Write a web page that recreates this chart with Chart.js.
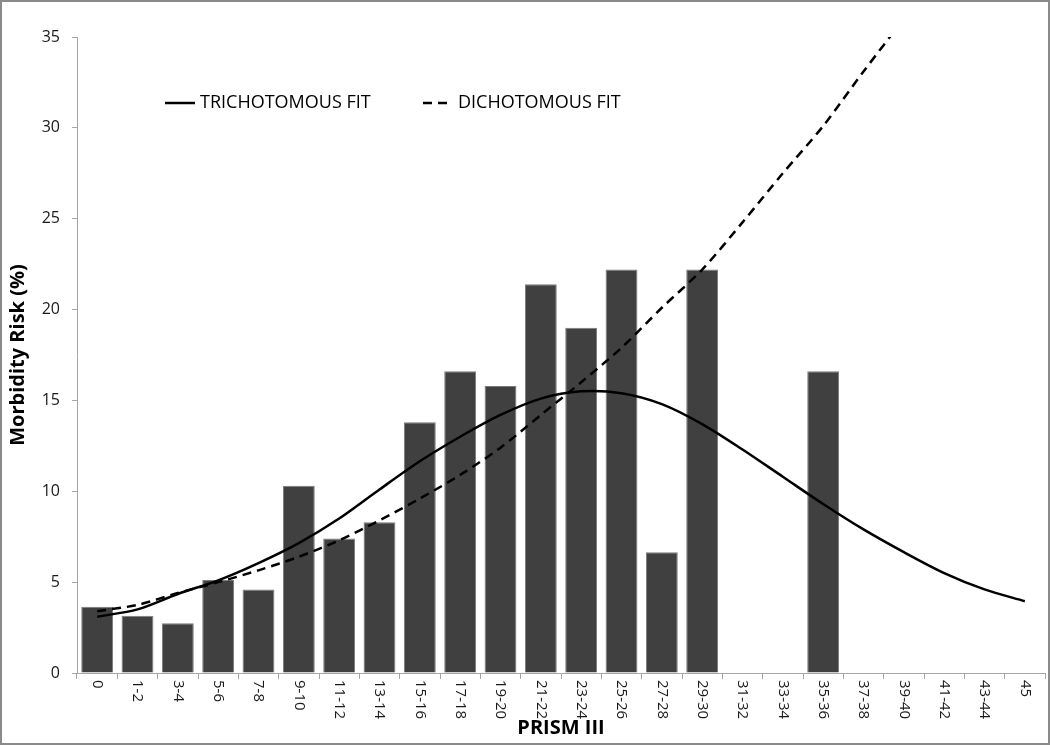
<!DOCTYPE html>
<html>
<head>
<meta charset="utf-8">
<script src="https://cdn.jsdelivr.net/npm/chart.js@4.4.1/dist/chart.umd.min.js"></script>
<style>
  body { margin: 0; background: #fff; }
</style>
</head>
<body>
<canvas id="chart" width="1050" height="745"></canvas>
<script>
const categories = ['0', '1-2', '3-4', '5-6', '7-8', '9-10', '11-12', '13-14', '15-16', '17-18',
    '19-20', '21-22', '23-24', '25-26', '27-28', '29-30', '31-32', '33-34', '35-36', '37-38',
    '39-40', '41-42', '43-44', '45'];

// observed morbidity per PRISM III group (%)
const observedRisk = [3.65, 3.15, 2.74, 5.12, 4.6, 10.3, 7.4, 8.3, 13.8, 16.6,
    15.8, 21.4, 19.0, 22.2, 6.64, 22.2, null, null, 16.6, null,
    null, null, null, null];

const trichotomousFit = [3.1, 3.5, 4.35, 5.1, 6.05, 7.15, 8.5, 10.1, 11.65, 13.0,
    14.2, 15.1, 15.5, 15.4, 14.8, 13.7, 12.3, 10.8, 9.3, 7.9,
    6.65, 5.5, 4.6, 3.95];

// runs off the top of the axis after 39-40
const dichotomousFit = [3.4, 3.75, 4.4, 5.0, 5.65, 6.4, 7.3, 8.4, 9.6, 10.9,
    12.4, 14.2, 16.0, 17.9, 20.1, 22.2, 24.8, 27.5, 30.1, 33.1,
    36.0, null, null, null];

const yMin = 0;
const yMax = 35;
const yStep = 5;

const fontFamily = "'Open Sans', sans-serif";
const axisColor = '#a6a6a6';
const textColor = '#1a1a1a';

Chart.defaults.font.family = fontFamily;

const framePlugin = {
    id: 'frame',
    beforeDraw(chart) {
        const ctx = chart.ctx;
        ctx.save();
        ctx.fillStyle = '#fff';
        ctx.fillRect(0, 0, chart.width, chart.height);
        ctx.restore();
    },
    afterDraw(chart) {
        const ctx = chart.ctx;
        ctx.save();
        ctx.strokeStyle = '#8a8a8a';
        ctx.lineWidth = 2;
        ctx.strokeRect(1, 1, chart.width - 2, chart.height - 2);
        ctx.restore();
    }
};

// x labels read top-to-bottom (rotated clockwise), which the built-in ticks can't do
const verticalLabelsPlugin = {
    id: 'verticalLabels',
    afterDraw(chart) {
        const ctx = chart.ctx;
        const xScale = chart.scales.x;
        ctx.save();
        ctx.fillStyle = textColor;
        ctx.font = "15px " + fontFamily;
        ctx.textAlign = 'left';
        ctx.textBaseline = 'middle';
        chart.data.labels.forEach((label, i) => {
            const x = xScale.getPixelForValue(i);
            ctx.save();
            ctx.translate(x, xScale.top + 7);
            ctx.rotate(Math.PI / 2);
            ctx.fillText(label, 0, 0);
            ctx.restore();
        });
        ctx.restore();
    }
};

const fitLegendPlugin = {
    id: 'fitLegend',
    afterDraw(chart, args, options) {
        const ctx = chart.ctx;
        ctx.save();
        ctx.font = "18px " + fontFamily;
        ctx.fillStyle = '#000';
        ctx.textBaseline = 'middle';
        options.items.forEach(item => {
            const ds = chart.data.datasets[item.dataset];
            ctx.beginPath();
            ctx.strokeStyle = ds.borderColor;
            ctx.lineWidth = ds.borderWidth;
            ctx.setLineDash(ds.borderDash || []);
            ctx.moveTo(item.lineFrom, options.y);
            ctx.lineTo(item.lineTo, options.y);
            ctx.stroke();
            ctx.setLineDash([]);
            ctx.fillText(ds.label, item.textX, options.y);
        });
        ctx.restore();
    }
};

const ctx = document.getElementById('chart').getContext('2d');
const chart = new Chart(ctx, {
    type: 'bar',
    data: {
        labels: categories,
        datasets: [
            {
                type: 'line',
                label: 'TRICHOTOMOUS FIT',
                data: trichotomousFit,
                borderColor: '#000',
                borderWidth: 2.5,
                pointRadius: 0,
                tension: 0.3,
                order: 1
            },
            {
                type: 'line',
                label: 'DICHOTOMOUS FIT',
                data: dichotomousFit,
                borderColor: '#000',
                borderWidth: 2.5,
                borderDash: [9, 6],
                pointRadius: 0,
                tension: 0.3,
                order: 1
            },
            {
                type: 'bar',
                label: 'Observed',
                data: observedRisk,
                backgroundColor: '#404040',
                borderColor: '#7a7a7a',
                borderWidth: 1,
                barPercentage: 0.79,
                categoryPercentage: 1,
                order: 2
            }
        ]
    },
    options: {
        responsive: false,
        animation: false,
        layout: {
            padding: { top: 37, right: 5, left: 0, bottom: 0 }
        },
        scales: {
            x: {
                offset: true,
                grid: {
                    display: true,
                    drawOnChartArea: false,
                    offset: true,
                    tickLength: 6,
                    color: axisColor
                },
                border: { color: axisColor, width: 1 },
                ticks: { display: false },
                title: {
                    display: true,
                    text: 'PRISM III',
                    color: '#000',
                    font: { size: 20, weight: 'bold' },
                    padding: { top: 0, bottom: 5 }
                },
                afterFit(scale) {
                    scale.height = 72;
                }
            },
            y: {
                min: yMin,
                max: yMax,
                grid: {
                    display: true,
                    drawOnChartArea: false,
                    tickLength: 5,
                    color: axisColor
                },
                border: { color: axisColor, width: 1 },
                ticks: {
                    stepSize: yStep,
                    color: textColor,
                    padding: 12,
                    font: { size: 16 }
                },
                title: {
                    display: true,
                    text: 'Morbidity Risk (%)',
                    color: '#000',
                    font: { size: 20, weight: 'bold' },
                    padding: { top: 6, bottom: 0 }
                },
                afterFit(scale) {
                    scale.width = 77;
                }
            }
        },
        plugins: {
            legend: { display: false },
            tooltip: { enabled: false },
            fitLegend: {
                y: 103,
                items: [
                    { dataset: 0, lineFrom: 165, lineTo: 195, textX: 200 },
                    { dataset: 1, lineFrom: 423, lineTo: 447, textX: 458 }
                ]
            }
        }
    },
    plugins: [framePlugin, verticalLabelsPlugin, fitLegendPlugin]
});
</script>
</body>
</html>
